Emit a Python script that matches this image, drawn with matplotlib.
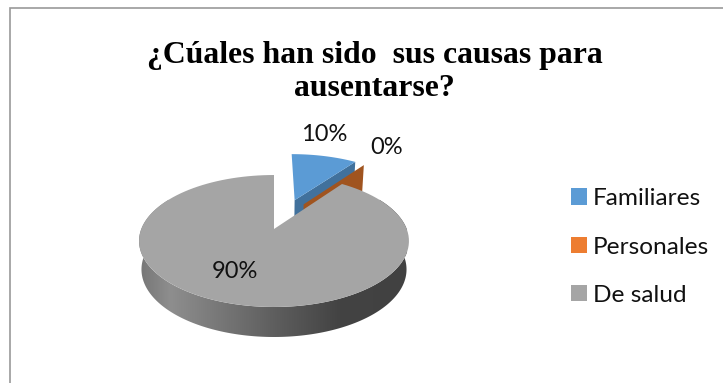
import numpy as np
import matplotlib
matplotlib.use("Agg")
import matplotlib.pyplot as plt
from matplotlib.colors import LinearSegmentedColormap
from matplotlib.patches import Patch, Polygon

categories = ["Familiares", "Personales", "De salud"]
percent = [10, 0, 90]
title_lines = "¿Cúales han sido  sus causas para\nausentarse?"

colors_top = ["#5B9BD5", "#ED7D31", "#A5A5A5"]
colors_cut = ["#41719C", "#A0541F", "#7C7C7C"]

# how far each slice is pulled out of the pie (radii) and in which direction (degrees)
explode = [0.52, 0.48, 0.0]
explode_dir = [19, 30, 0]
label_xy = [(324, 134.5), (387, 147.5), (235, 271.5)]

# perspective of the pie plane
cx, cy = 274, 229
ax_u, ax_v, k = 132.7, 63.8, 0.1818
depth, k_depth, shrink = 28.1, 0.064, 0.982


def top_face(u, v):
    den = 1 + k * v
    return cx + ax_u * u / den, cy - ax_v * v / den


def bottom_face(u, v):
    x, y = top_face(u, v)
    return cx + shrink * (x - cx), y + depth / (1 + k_depth * v)


def on_circle(theta, off):
    # theta in degrees clockwise from the back of the pie
    t = np.radians(theta)
    return off[0] + np.sin(t), off[1] + np.cos(t)


fig = plt.figure(figsize=(7.23, 3.83), dpi=100)
ax = fig.add_axes([0, 0, 1, 1])
ax.axis("off")

ax.plot([10, 10, 723], [383, 7.5, 7.5], color="#999999", lw=1.2, solid_joinstyle="miter", zorder=1)

edges = np.cumsum([0] + percent) * 3.6

# outer wall of the big slice, shaded from left to right
wall_shade = LinearSegmentedColormap.from_list(
    "wall", [(0, "#757575"), (0.12, "#8E8E8E"), (0.5, "#5F5F5F"), (0.75, "#434343"), (1, "#414141")])
th = np.linspace(60, 300, 400)
u, v = on_circle(th, (0, 0))
tx, ty = top_face(u, v)
bx, by = bottom_face(u, v)
wall = Polygon(np.r_[np.c_[tx, ty], np.c_[bx, by][::-1]], closed=True, fc="none", ec="none")
ax.add_patch(wall)
im = ax.imshow(np.linspace(0, 1, 256)[None, :], cmap=wall_shade, extent=[138, 407, 340, 190],
               aspect="auto", zorder=4, vmin=0, vmax=1)
im.set_clip_path(wall)
ax.set_xlim(0, 723)
ax.set_ylim(383, 0)

for i, name in enumerate(categories):
    a0, a1 = edges[i], edges[i + 1]
    d = np.radians(explode_dir[i])
    off = (explode[i] * np.sin(d), explode[i] * np.cos(d))
    if i < 2:
        # cut side of the pulled out slices, seen from the front
        ru, rv = on_circle(a1, off)
        quad = [top_face(*off), top_face(ru, rv), bottom_face(ru, rv), bottom_face(*off)]
        ax.add_patch(Polygon(quad, closed=True, fc=colors_cut[i], ec="none", zorder=2 + 0.2 * i))
    th = np.linspace(a0, a1, 120)
    u, v = on_circle(th, off)
    tx, ty = top_face(u, v)
    ax0, ay0 = top_face(*off)
    z = 5 if i == 2 else 2.1 + 0.2 * i
    ax.fill(np.r_[ax0, tx], np.r_[ay0, ty], fc=colors_top[i], ec="none", zorder=z)
    ax.text(label_xy[i][0], label_xy[i][1], f"{percent[i]}%", family="Lato", fontsize=17,
            color="#111111", ha="center", va="center", zorder=6)

ax.text(374.5, 72, title_lines, family="Liberation Serif", fontweight="bold", fontsize=22.85,
        ha="center", va="center", linespacing=1.14, color="black")

handles = [Patch(fc=c, ec="none") for c in colors_top]
ax.legend(handles, categories, loc="center left", bbox_to_anchor=(571 / 723, 1 - 247 / 383), frameon=False,
          prop={"family": "Lato", "size": 17.6}, labelcolor="#111111", handlelength=0.64, handleheight=0.64,
          handletextpad=0.27, labelspacing=1.12, borderpad=0, borderaxespad=0)

fig.savefig("out.png", dpi=100)
